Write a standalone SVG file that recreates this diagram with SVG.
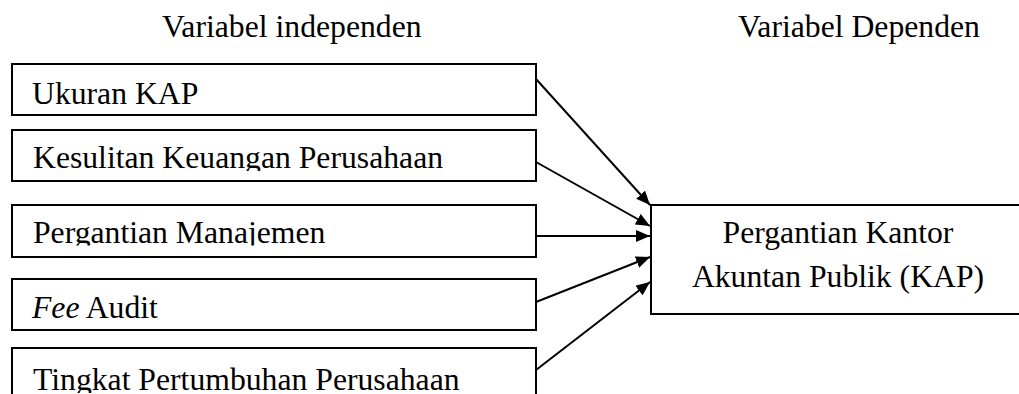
<svg xmlns="http://www.w3.org/2000/svg" width="1019" height="394" viewBox="0 0 1019 394">
<style>
.box{fill:#fff;stroke:#000;stroke-width:2}
.con{stroke:#000;stroke-width:2;fill:none}
</style>
<defs>
<marker id="ah" markerUnits="userSpaceOnUse" markerWidth="14" markerHeight="12" refX="14" refY="6" orient="auto">
<path d="M0,0 L14,6 L0,12 Z" fill="#000"/>
</marker>
<clipPath id="c2"><rect x="12" y="130" width="524" height="41"/></clipPath>
<clipPath id="c3"><rect x="12" y="205" width="524" height="40.5"/></clipPath>
<clipPath id="c5"><rect x="12" y="348" width="524" height="45"/></clipPath>
</defs>
<rect width="1019" height="394" fill="#fff"/>
<g font-family="'Liberation Serif', 'Times New Roman', Times, serif" font-size="31.7" fill="#000">
<g id="titles">
<text x="162" y="37">Variabel independen</text>
<text x="738" y="37">Variabel Dependen</text>
</g>
<g id="n1"><rect class="box" x="12" y="64" width="524" height="51"/><text x="32" y="104">Ukuran KAP</text></g>
<g id="n2"><rect class="box" x="12" y="130" width="524" height="51"/><text x="33" y="168" clip-path="url(#c2)">Kesulitan Keuangan Perusahaan</text></g>
<g id="n3"><rect class="box" x="12" y="205" width="524" height="52"/><text x="33" y="243" clip-path="url(#c3)">Pergantian Manajemen</text></g>
<g id="n4"><rect class="box" x="12" y="279" width="524" height="51"/><text x="32" y="318"><tspan font-style="italic">Fee</tspan> Audit</text></g>
<g id="n5"><rect class="box" x="12" y="348" width="524" height="60"/><text x="33" y="390" clip-path="url(#c5)">Tingkat Pertumbuhan Perusahaan</text></g>
<g id="dep"><rect class="box" x="651" y="205" width="400" height="109"/>
<text x="838" y="243" text-anchor="middle">Pergantian Kantor</text>
<text x="838" y="287" text-anchor="middle">Akuntan Publik (KAP)</text></g>
</g>
<g id="connectors" marker-end="url(#ah)">
<line class="con" x1="536" y1="79" x2="650" y2="205" marker-end="url(#ah)"/>
<line class="con" x1="536" y1="162" x2="650" y2="226" marker-end="url(#ah)"/>
<line class="con" x1="536" y1="236" x2="650" y2="236" marker-end="url(#ah)"/>
<line class="con" x1="536" y1="302" x2="650" y2="257" marker-end="url(#ah)"/>
<line class="con" x1="536" y1="370" x2="650" y2="282" marker-end="url(#ah)"/>
</g>
</svg>
